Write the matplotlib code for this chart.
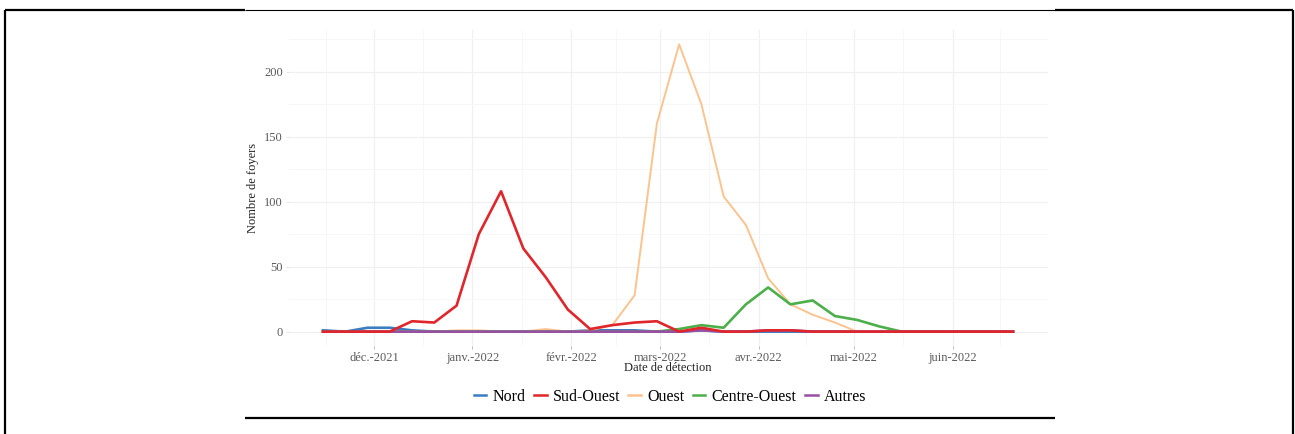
import numpy as np
import pandas as pd
import matplotlib
matplotlib.use("Agg")
import matplotlib.pyplot as plt
import matplotlib.dates as mdates
from matplotlib.lines import Line2D

# weekly counts, first week starting 2021-11-15
weeks = pd.date_range("2021-11-15", periods=32, freq="7D")

nord = [1, 0, 3, 3, 1, 0, 0, 0, 0, 0, 0, 0, 1, 1, 1, 0,
        0, 1, 0, 0, 0, 0, 0, 0, 0, 0, 0, 0, 0, 0, 0, 0]
sud_ouest = [0, 0, 0, 0, 8, 7, 20, 75, 108, 64, 42, 17, 2, 5, 7, 8,
             0, 3, 0, 0, 1, 1, 0, 0, 0, 0, 0, 0, 0, 0, 0, 0]
ouest = [0, 0, 0, 0, 0, 0, 1, 1, 0, 0, 2, 0, 1, 5, 28, 160,
         221, 175, 104, 82, 41, 21, 13, 7, 0, 0, 0, 0, 0, 0, 0, 0]
centre_ouest = [0, 0, 0, 0, 0, 0, 0, 0, 0, 0, 0, 0, 0, 0, 0, 0,
                2, 5, 3, 21, 34, 21, 24, 12, 9, 4, 0, 0, 0, 0, 0, 0]
autres = [0, 0, 0, 0, 0, 0, 0, 0, 0, 0, 0, 0, 0, 0, 0, 0,
          0, 1, 0, 0, 1, 1, 0, 0, 0, 0, 0, 0, 0, 0, 0, 0]

series_names = ["Nord", "Sud-Ouest", "Ouest", "Centre-Ouest", "Autres"]
series_values = [nord, sud_ouest, ouest, centre_ouest, autres]
series_colors = ["#3A7DC0", "#E0262B", "#FBC38F", "#4DAF4A", "#984EA3"]

tick_dates = pd.to_datetime(["2021-12-01", "2022-01-01", "2022-02-01", "2022-03-01",
                             "2022-04-01", "2022-05-01", "2022-06-01"])
tick_labels = ["déc.-2021", "janv.-2022", "févr.-2022", "mars-2022",
               "avr.-2022", "mai-2022", "juin-2022"]
y_ticks = [0, 50, 100, 150, 200]

plt.rcParams["font.family"] = ["Liberation Serif", "DejaVu Serif"]

W, H = 1295, 434
fig = plt.figure(figsize=(W / 100, H / 100), dpi=100)


def fx(px):
    return px / W


def fy(py):
    return 1 - py / H


# panel placed in pixel space
left, right, top, bottom = 288.5, 1047.5, 30, 346
ax = fig.add_axes([fx(left), fy(bottom), fx(right - left), (bottom - top) / H])

# draw order: red on top
order = [0, 2, 3, 4, 1]
for z, k in enumerate(order):
    lw = 1.4 if k == 2 else 1.9
    ax.plot(weeks, series_values[k], color=series_colors[k], lw=lw,
            zorder=3 + z, solid_joinstyle="round")

# ggplot-ish expansion
span = (weeks[-1] - weeks[0]) * 0.05
ax.set_xlim(weeks[0] - span, weeks[-1] + span)
ymax = max(max(v) for v in series_values)
ax.set_ylim(-ymax * 0.05, ymax * 1.05)

ax.set_xticks(mdates.date2num(tick_dates))
ax.set_xticklabels(tick_labels)
minor_x = tick_dates[:-1] + (tick_dates[1:] - tick_dates[:-1]) / 2
minor_x = minor_x.append(pd.DatetimeIndex([tick_dates[0] - pd.Timedelta(days=15),
                                           tick_dates[-1] + pd.Timedelta(days=15)]))
ax.set_xticks(mdates.date2num(minor_x), minor=True)
ax.set_yticks(y_ticks)
ax.set_yticks([25, 75, 125, 175, 225], minor=True)

ax.grid(True, which="major", color="#F0F0F0", lw=0.9, zorder=0)
ax.grid(True, which="minor", color="#F6F6F6", lw=0.6, zorder=0)
for s in ax.spines.values():
    s.set_visible(False)
ax.tick_params(axis="x", which="major", colors="#B0B0B0", labelcolor="#5A5A5A",
               labelsize=9, length=2.5, width=0.6, pad=1.5)
ax.tick_params(axis="y", which="major", colors="#E0E0E0", labelcolor="#5A5A5A",
               labelsize=9, length=2.5, width=0.6, pad=1.5)
ax.tick_params(axis="both", which="minor", length=0)

fig.text(fx(668), fy(368), "Date de détection", ha="center", va="center",
         fontsize=9, color="#222222")
fig.text(fx(253), fy(188), "Nombre de foyers", ha="center", va="center",
         rotation=90, fontsize=9, color="#222222")

leg_handles = [Line2D([], [], color=series_colors[k], lw=1.8) for k in range(5)]
fig.legend(leg_handles, series_names, loc="center", bbox_to_anchor=(fx(670), fy(397)),
           ncol=5, frameon=False, fontsize=11.5, handlelength=0.8, handletextpad=0.4,
           columnspacing=0.5, borderpad=0)

# page frame around the figure
frame = dict(transform=fig.transFigure, color="black", solid_capstyle="butt")
fig.add_artist(Line2D([fx(5), fx(5)], [fy(10), fy(434)], lw=1.6, **frame))
fig.add_artist(Line2D([fx(1293), fx(1293)], [fy(10), fy(434)], lw=1.6, **frame))
fig.add_artist(Line2D([fx(5), fx(245)], [fy(10), fy(10)], lw=1.6, **frame))
fig.add_artist(Line2D([fx(1055), fx(1293)], [fy(10), fy(10)], lw=1.6, **frame))
fig.add_artist(Line2D([fx(245), fx(1055)], [fy(10), fy(10)], lw=0.8, **frame))
fig.add_artist(Line2D([fx(245), fx(1055)], [fy(418), fy(418)], lw=1.6, **frame))

fig.savefig("out.png", dpi=100)
